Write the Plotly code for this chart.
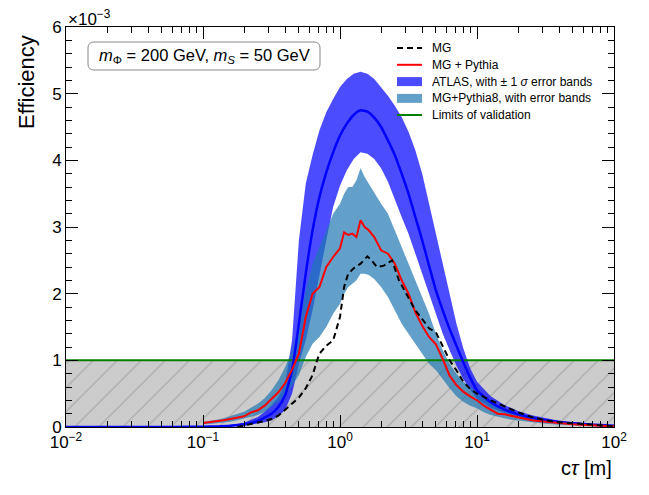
import plotly.graph_objects as go

# ---------------- data (efficiency in units of 1e-3) ----------------
# ATLAS curve and +-1 sigma band, sampled at log10(c tau [m])
ATLAS_LOG_CTAU = [-2, -1.5, -1.2, -1.0, -0.9, -0.8, -0.7, -0.6, -0.55, -0.5, -0.45, -0.4, -0.35, -0.3,
                  -0.25, -0.2, -0.15, -0.1, -0.05, 0, 0.05, 0.1, 0.15, 0.2, 0.25, 0.3, 0.35, 0.4, 0.45,
                  0.5, 0.55, 0.6, 0.65, 0.7, 0.75, 0.8, 0.85, 0.9, 0.95, 1.0, 1.1, 1.2, 1.3, 1.4, 1.5,
                  1.6, 1.7, 1.8, 1.9, 2.0]
ATLAS_CENTRAL = [0, 0.0005, 0.001, 0.004, 0.008, 0.018, 0.04, 0.09, 0.14, 0.2, 0.3, 0.48, 0.85, 1.55,
                 2.3, 2.95, 3.45, 3.82, 4.12, 4.37, 4.55, 4.68, 4.75, 4.73, 4.64, 4.5, 4.3, 4.08, 3.8,
                 3.5, 3.15, 2.8, 2.42, 2.05, 1.75, 1.47, 1.22, 0.97, 0.74, 0.55, 0.37, 0.26, 0.19, 0.14,
                 0.1, 0.075, 0.055, 0.04, 0.03, 0.02]
ATLAS_UP = [0, 0.0008, 0.002, 0.007, 0.013, 0.03, 0.065, 0.15, 0.23, 0.33, 0.45, 0.65, 1.3, 2.8,
            3.65, 4.08, 4.45, 4.72, 4.92, 5.1, 5.22, 5.3, 5.33, 5.3, 5.22, 5.1, 4.97, 4.82, 4.65,
            4.43, 4.15, 3.8, 3.35, 2.95, 2.5, 2.0, 1.55, 1.18, 0.88, 0.68, 0.46, 0.33, 0.24, 0.175,
            0.13, 0.095, 0.07, 0.05, 0.037, 0.027]
ATLAS_DOWN = [0, 0.0002, 0.0005, 0.002, 0.004, 0.01, 0.02, 0.05, 0.07, 0.1, 0.16, 0.26, 0.5, 0.95,
              1.3, 1.75, 2.25, 2.8, 3.3, 3.62, 3.85, 4.02, 4.12, 4.1, 4.02, 3.88, 3.68, 3.42, 3.15,
              2.9, 2.62, 2.3, 2.0, 1.7, 1.4, 1.15, 0.92, 0.72, 0.56, 0.42, 0.29, 0.21, 0.15, 0.11,
              0.08, 0.06, 0.045, 0.033, 0.024, 0.016]

# MG + Pythia8 with its error band
PY_LOG_CTAU = [-1.0, -0.95, -0.9, -0.85, -0.8, -0.75, -0.7, -0.65, -0.6, -0.55, -0.5, -0.45, -0.4,
               -0.35, -0.3, -0.25, -0.2, -0.15, -0.1, -0.05, 0.0, 0.03, 0.06, 0.09, 0.12, 0.15, 0.18,
               0.21, 0.25, 0.3, 0.35, 0.4, 0.45, 0.5, 0.55, 0.6, 0.65, 0.7, 0.75, 0.8, 0.85, 0.9,
               0.95, 1.0, 1.05, 1.1, 1.15, 1.2, 1.25, 1.3, 1.4, 1.5, 1.6, 1.7, 1.8, 1.9, 2.0]
PY_EFF = [0.06, 0.07, 0.08, 0.1, 0.12, 0.14, 0.16, 0.22, 0.25, 0.32, 0.42, 0.52, 0.66, 0.86, 1.1,
          1.65, 2.0, 2.1, 2.4, 2.55, 2.68, 2.92, 2.88, 2.9, 2.85, 3.1, 3.0, 2.95, 2.85, 2.65, 2.6,
          2.45, 2.2, 2.0, 1.72, 1.52, 1.35, 1.24, 1.02, 0.77, 0.63, 0.53, 0.46, 0.4, 0.32, 0.26,
          0.2, 0.19, 0.17, 0.14, 0.1, 0.08, 0.055, 0.04, 0.03, 0.015, 0.01]
PY_UP = [0.08, 0.09, 0.11, 0.13, 0.16, 0.19, 0.23, 0.29, 0.35, 0.43, 0.55, 0.7, 0.9, 1.15, 1.5,
         2.05, 2.45, 2.7, 2.95, 3.2, 3.35, 3.5, 3.6, 3.6, 3.7, 3.88, 3.75, 3.65, 3.5, 3.35, 3.2,
         2.95, 2.7, 2.45, 2.2, 1.95, 1.7, 1.4, 1.15, 0.95, 0.8, 0.68, 0.6, 0.52, 0.43, 0.36, 0.3,
         0.27, 0.23, 0.2, 0.14, 0.11, 0.08, 0.055, 0.04, 0.025, 0.015]
PY_DOWN = [0.04, 0.045, 0.05, 0.065, 0.08, 0.1, 0.12, 0.15, 0.18, 0.23, 0.3, 0.38, 0.48, 0.62, 0.78,
           1.05, 1.25, 1.35, 1.5, 1.7, 1.85, 2.0, 2.1, 2.15, 2.2, 2.3, 2.3, 2.28, 2.22, 2.1, 1.95,
           1.75, 1.55, 1.4, 1.25, 1.1, 0.95, 0.85, 0.72, 0.58, 0.46, 0.38, 0.32, 0.28, 0.22, 0.18,
           0.15, 0.13, 0.11, 0.1, 0.07, 0.05, 0.035, 0.025, 0.015, 0.008, 0.005]

# MG only
MG_LOG_CTAU = [-0.75, -0.7, -0.6, -0.55, -0.5, -0.45, -0.4, -0.35, -0.3, -0.25, -0.2, -0.17, -0.15,
               -0.1, -0.05, 0.0, 0.03, 0.06, 0.1, 0.15, 0.2, 0.23, 0.27, 0.32, 0.38, 0.43, 0.5, 0.55,
               0.6, 0.65, 0.7, 0.75, 0.8, 0.85, 0.9, 0.95, 1.0, 1.1, 1.2, 1.3, 1.4, 1.5, 1.6, 1.7,
               1.8, 1.9, 2.0]
MG_EFF = [0.0, 0.02, 0.06, 0.09, 0.12, 0.17, 0.26, 0.35, 0.44, 0.58, 0.78, 0.98, 1.1, 1.22, 1.3,
          1.65, 2.1, 2.3, 2.38, 2.45, 2.56, 2.5, 2.4, 2.42, 2.5, 2.2, 1.95, 1.75, 1.62, 1.48, 1.42,
          1.22, 1.0, 0.85, 0.68, 0.57, 0.5, 0.4, 0.31, 0.22, 0.15, 0.1, 0.07, 0.055, 0.04, 0.02, 0.01]

VALIDATION_LIMIT = 1.0
X_RANGE = [0.01, 100]
X_TICKS = [0.01, 0.1, 1, 10, 100]
X_TICKTEXT = ["10<sup>−2</sup>", "10<sup>−1</sup>", "10<sup>0</sup>", "10<sup>1</sup>", "10<sup>2</sup>"]

LEGEND_LABELS = ["MG", "MG + Pythia", "ATLAS, with ± 1 <i>σ</i> error bands",
                 "MG+Pythia8, with error bands", "Limits of validation"]

# ---------------- figure ----------------
def ct(logs):
    return [10 ** v for v in logs]

FONT = "Liberation Sans, Arial, sans-serif"
C_ATLAS = "rgba(0,0,255,0.7)"
C_PY = "rgba(31,119,180,0.7)"
fig = go.Figure()

# grey hatched region below validation limit
fig.add_trace(go.Scatter(
    x=X_RANGE, y=[VALIDATION_LIMIT, VALIDATION_LIMIT], mode="lines", line=dict(width=0),
    fill="tozeroy", fillcolor="#cccccc",
    fillpattern=dict(shape="/", size=17, solidity=0.08, fgcolor="#8a8a8a", bgcolor="#cccccc"),
    showlegend=False, hoverinfo="skip"))

xa = ct(ATLAS_LOG_CTAU)
fig.add_trace(go.Scatter(
    x=xa + xa[::-1], y=ATLAS_UP + ATLAS_DOWN[::-1], mode="lines", line=dict(width=0),
    fill="toself", fillcolor=C_ATLAS, showlegend=False))

xp = ct(PY_LOG_CTAU)
fig.add_trace(go.Scatter(
    x=xp + xp[::-1], y=PY_UP + PY_DOWN[::-1], mode="lines", line=dict(width=0),
    fill="toself", fillcolor=C_PY, showlegend=False))

fig.add_trace(go.Scatter(
    x=X_RANGE, y=[VALIDATION_LIMIT, VALIDATION_LIMIT], mode="lines",
    line=dict(color="green", width=2), showlegend=False))

fig.add_trace(go.Scatter(
    x=xa, y=ATLAS_CENTRAL, mode="lines", line=dict(color="#0000ff", width=2.5, shape="spline", smoothing=0.5),
    showlegend=False))

fig.add_trace(go.Scatter(
    x=xp, y=PY_EFF, mode="lines", line=dict(color="red", width=2), showlegend=False))

fig.add_trace(go.Scatter(
    x=ct(MG_LOG_CTAU), y=MG_EFF, mode="lines", line=dict(color="black", width=2, dash="6px,4px"),
    showlegend=False))

axis_common = dict(showline=True, linecolor="black", linewidth=1, mirror="allticks",
                   ticks="inside", ticklen=12, tickcolor="black", showgrid=False, zeroline=False,
                   tickfont=dict(family=FONT, size=17, color="black"))

fig.update_xaxes(type="log", range=[-2, 2], tickvals=X_TICKS, ticktext=X_TICKTEXT,
                 minor=dict(ticks="inside", ticklen=6, tickcolor="black", dtick="D1", showgrid=False),
                 **axis_common)
fig.update_yaxes(range=[0, 6], dtick=1,
                 minor=dict(ticks="inside", ticklen=6, tickcolor="black", dtick=0.2, showgrid=False),
                 **axis_common)

# helpers: pixel -> paper coordinates for the 66..614 x 27..427 plot area
def px(xp_):
    return (xp_ - 66) / 548.0

def py(yp_):
    return (427 - yp_) / 400.0

# rounded annotation box
x0, x1, y0, y1 = px(88), px(320), py(70), py(42)
rx, ry = 6 / 548.0, 6 / 400.0
path = (f"M {x0+rx},{y0} L {x1-rx},{y0} Q {x1},{y0} {x1},{y0+ry} L {x1},{y1-ry} "
        f"Q {x1},{y1} {x1-rx},{y1} L {x0+rx},{y1} Q {x0},{y1} {x0},{y1-ry} "
        f"L {x0},{y0+ry} Q {x0},{y0} {x0+rx},{y0} Z")
fig.add_shape(type="path", path=path, xref="paper", yref="paper",
              line=dict(color="#888888", width=1), fillcolor="rgba(255,255,255,0)")

# manual legend
rows = [48, 64.8, 81.6, 98.4, 115]
sx0, sx1, tx = px(397), px(422), px(430)
annotations = []
for i, (label, yrow) in enumerate(zip(LEGEND_LABELS, rows)):
    yc = py(yrow)
    if i == 0:
        fig.add_shape(type="line", xref="paper", yref="paper", x0=sx0, x1=sx1, y0=yc, y1=yc,
                      line=dict(color="black", width=2, dash="6px,4px"))
    elif i == 1:
        fig.add_shape(type="line", xref="paper", yref="paper", x0=sx0, x1=sx1, y0=yc, y1=yc,
                      line=dict(color="red", width=2))
    elif i in (2, 3):
        fig.add_shape(type="rect", xref="paper", yref="paper", x0=sx0, x1=sx1,
                      y0=yc - 4.5 / 400, y1=yc + 4.5 / 400, line=dict(width=0),
                      fillcolor=C_ATLAS if i == 2 else C_PY)
    else:
        fig.add_shape(type="line", xref="paper", yref="paper", x0=sx0, x1=sx1, y0=yc, y1=yc,
                      line=dict(color="green", width=2))
    annotations.append(dict(text=label, xref="paper", yref="paper", x=tx, y=yc, xanchor="left",
                            yanchor="middle", showarrow=False, font=dict(family=FONT, size=12)))

annotations += [
    dict(text="<i>m</i><sub>Φ</sub> = 200 GeV, <i>m</i><sub><i>S</i></sub> = 50 GeV",
         xref="paper", yref="paper", x=px(204), y=py(56), xanchor="center", yanchor="middle",
         showarrow=False, font=dict(family=FONT, size=16.5)),
    dict(text="×10<sup>−3</sup>", xref="paper", yref="paper", x=0.0, y=1.0, xanchor="left",
         yanchor="bottom", yshift=-4, showarrow=False, font=dict(family=FONT, size=17)),
    dict(text="Efficiency", xref="paper", yref="paper", x=px(26), y=py(131), xanchor="center",
         yanchor="bottom", textangle=-90, showarrow=False, font=dict(family=FONT, size=22)),
    dict(text="c<i>τ</i> [m]", xref="paper", yref="paper", x=px(614), y=py(468), xanchor="right",
         yanchor="middle", showarrow=False, font=dict(family=FONT, size=20)),
]

fig.update_layout(
    width=649, height=495,
    margin=dict(l=66, r=35, t=27, b=68),
    paper_bgcolor="white", plot_bgcolor="white",
    font=dict(family=FONT, color="black"),
    showlegend=False,
    annotations=annotations,
)

fig.write_html("out.html")
